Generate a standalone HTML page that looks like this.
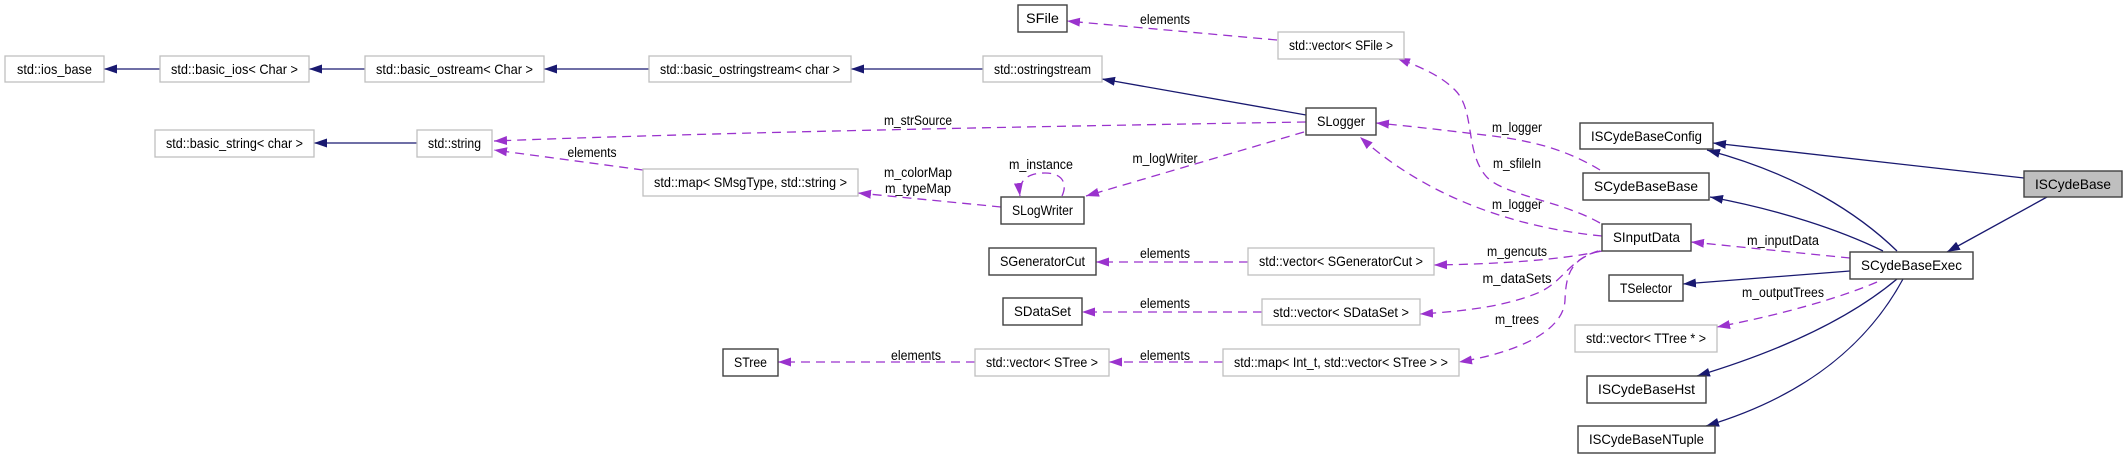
<!DOCTYPE html>
<html><head><meta charset="utf-8"><style>
html,body{margin:0;padding:0;background:#fff;}
svg{display:block;}
text{font-family:"Liberation Sans",Arial,sans-serif;fill:#000;}
.n{font-size:14px;}
.l{font-size:13.5px;}
</style></head><body>
<svg width="2128" height="459" viewBox="0 0 2128 459" xmlns="http://www.w3.org/2000/svg">
<defs>
<marker id="an" markerWidth="14" markerHeight="10" refX="13" refY="5" orient="auto" markerUnits="userSpaceOnUse"><path d="M0,0.5 L13,5 L0,9.5 z" fill="#191970"/></marker>
<marker id="ap" markerWidth="14" markerHeight="10" refX="13" refY="5" orient="auto" markerUnits="userSpaceOnUse"><path d="M0,0.5 L13,5 L0,9.5 z" fill="#9a32cd"/></marker>
</defs>

<!-- navy inheritance edges -->
<g fill="none" stroke="#191970" stroke-width="1.3" marker-end="url(#an)">
<path d="M160,69 L104,69"/>
<path d="M365,69 L309,69"/>
<path d="M649,69 L544,69"/>
<path d="M983,69 L851,69"/>
<path d="M1306,115 L1102,79"/>
<path d="M417,143 L314,143"/>
<path d="M2024,178 L1713,143"/>
<path d="M2047,197 L1947,252"/>
<path d="M1897,251 C1860,215 1800,175 1707,150"/>
<path d="M1883,251 C1840,230 1780,210 1710,197"/>
<path d="M1850,271 L1683,284"/>
<path d="M1897,279 C1860,310 1800,345 1697,376"/>
<path d="M1903,279 C1870,340 1810,395 1706,426"/>
</g>

<!-- purple usage edges -->
<g fill="none" stroke="#9a32cd" stroke-width="1.3" stroke-dasharray="9,6" marker-end="url(#ap)">
<path d="M1277,40 L1067,21"/>
<path d="M1600,223 C1560,200 1500,195 1485,175 C1465,150 1475,110 1455,90 C1440,75 1420,67 1397,58"/>
<path d="M1600,170 C1570,152 1540,142 1493,136 C1450,131 1410,126 1376,123"/>
<path d="M1602,236 C1520,228 1430,200 1360,137"/>
<path d="M1602,251 C1560,260 1500,264 1434,265"/>
<path d="M1600,251 C1570,258 1565,280 1540,292 C1510,305 1470,311 1420,314"/>
<path d="M1598,251 C1570,260 1566,275 1565,300 C1564,330 1520,352 1459,362"/>
<path d="M1850,258 L1691,242"/>
<path d="M1877,282 C1840,298 1780,315 1717,327"/>
<path d="M1306,122 C1000,127 700,133 494,141"/>
<path d="M643,170 L494,150"/>
<path d="M1001,207 L858,193"/>
<path d="M1062,196 C1068,183 1062,173 1045,173 C1028,173 1018,180 1020,196"/>
<path d="M1304,132 L1086,196"/>
<path d="M1248,262 L1096,262"/>
<path d="M1262,312 L1082,312"/>
<path d="M975,362 L778,362"/>
<path d="M1223,362 L1109,362"/>
</g>

<!-- edge labels -->
<g class="l" text-anchor="middle">
<text x="1165" y="24" textLength="50" lengthAdjust="spacingAndGlyphs">elements</text>
<text x="1517" y="168" textLength="48" lengthAdjust="spacingAndGlyphs">m_sfileIn</text>
<text x="1517" y="132" textLength="50" lengthAdjust="spacingAndGlyphs">m_logger</text>
<text x="1517" y="209" textLength="50" lengthAdjust="spacingAndGlyphs">m_logger</text>
<text x="1517" y="256" textLength="60" lengthAdjust="spacingAndGlyphs">m_gencuts</text>
<text x="1517" y="283" textLength="69" lengthAdjust="spacingAndGlyphs">m_dataSets</text>
<text x="1517" y="324" textLength="44" lengthAdjust="spacingAndGlyphs">m_trees</text>
<text x="1783" y="245" textLength="72" lengthAdjust="spacingAndGlyphs">m_inputData</text>
<text x="1783" y="297" textLength="82" lengthAdjust="spacingAndGlyphs">m_outputTrees</text>
<text x="918" y="125" textLength="68" lengthAdjust="spacingAndGlyphs">m_strSource</text>
<text x="592" y="157" textLength="49" lengthAdjust="spacingAndGlyphs">elements</text>
<text x="918" y="177" textLength="68" lengthAdjust="spacingAndGlyphs">m_colorMap</text>
<text x="918" y="193" textLength="66" lengthAdjust="spacingAndGlyphs">m_typeMap</text>
<text x="1041" y="169" textLength="64" lengthAdjust="spacingAndGlyphs">m_instance</text>
<text x="1165" y="163" textLength="65" lengthAdjust="spacingAndGlyphs">m_logWriter</text>
<text x="1165" y="258" textLength="50" lengthAdjust="spacingAndGlyphs">elements</text>
<text x="1165" y="308" textLength="50" lengthAdjust="spacingAndGlyphs">elements</text>
<text x="916" y="360" textLength="50" lengthAdjust="spacingAndGlyphs">elements</text>
<text x="1165" y="360" textLength="50" lengthAdjust="spacingAndGlyphs">elements</text>
</g>

<!-- gray-bordered std nodes -->
<g fill="#fff" stroke="#bfbfbf" stroke-width="1.3">
<rect x="5" y="56" width="99" height="26"/>
<rect x="160" y="56" width="149" height="26"/>
<rect x="365" y="56" width="179" height="26"/>
<rect x="649" y="56" width="202" height="26"/>
<rect x="983" y="56" width="119" height="26"/>
<rect x="1278" y="32" width="126" height="27"/>
<rect x="155" y="130" width="159" height="27"/>
<rect x="417" y="130" width="75" height="27"/>
<rect x="643" y="169" width="215" height="27"/>
<rect x="1248" y="248" width="186" height="27"/>
<rect x="1262" y="299" width="158" height="26"/>
<rect x="975" y="349" width="134" height="27"/>
<rect x="1223" y="349" width="236" height="27"/>
<rect x="1575" y="325" width="142" height="27"/>
</g>

<!-- dark-bordered class nodes -->
<g fill="#fff" stroke="#404040" stroke-width="1.4">
<rect x="1018" y="5" width="49" height="27"/>
<rect x="1306" y="108" width="70" height="27"/>
<rect x="1001" y="197" width="83" height="27"/>
<rect x="1580" y="123" width="133" height="26"/>
<rect x="1583" y="173" width="126" height="27"/>
<rect x="1602" y="224" width="89" height="27"/>
<rect x="1850" y="252" width="123" height="27"/>
<rect x="1609" y="275" width="74" height="26"/>
<rect x="1587" y="376" width="119" height="27"/>
<rect x="1578" y="426" width="137" height="27"/>
<rect x="989" y="248" width="107" height="27"/>
<rect x="1003" y="298" width="79" height="27"/>
<rect x="723" y="349" width="55" height="27"/>
<rect x="2024" y="171" width="98" height="26" fill="#bfbfbf"/>
</g>

<!-- node labels -->
<g class="n" text-anchor="middle">
<text x="54.5" y="74" textLength="75" lengthAdjust="spacingAndGlyphs">std::ios_base</text>
<text x="234.5" y="74" textLength="127" lengthAdjust="spacingAndGlyphs">std::basic_ios&lt; Char &gt;</text>
<text x="454.5" y="74" textLength="157" lengthAdjust="spacingAndGlyphs">std::basic_ostream&lt; Char &gt;</text>
<text x="750" y="74" textLength="180" lengthAdjust="spacingAndGlyphs">std::basic_ostringstream&lt; char &gt;</text>
<text x="1042.5" y="74" textLength="97" lengthAdjust="spacingAndGlyphs">std::ostringstream</text>
<text x="1341" y="50" textLength="104" lengthAdjust="spacingAndGlyphs">std::vector&lt; SFile &gt;</text>
<text x="234.5" y="148" textLength="137" lengthAdjust="spacingAndGlyphs">std::basic_string&lt; char &gt;</text>
<text x="454.5" y="148" textLength="53" lengthAdjust="spacingAndGlyphs">std::string</text>
<text x="750.5" y="187" textLength="193" lengthAdjust="spacingAndGlyphs">std::map&lt; SMsgType, std::string &gt;</text>
<text x="1341" y="266" textLength="164" lengthAdjust="spacingAndGlyphs">std::vector&lt; SGeneratorCut &gt;</text>
<text x="1341" y="317" textLength="136" lengthAdjust="spacingAndGlyphs">std::vector&lt; SDataSet &gt;</text>
<text x="1042" y="367" textLength="112" lengthAdjust="spacingAndGlyphs">std::vector&lt; STree &gt;</text>
<text x="1341" y="367" textLength="214" lengthAdjust="spacingAndGlyphs">std::map&lt; Int_t, std::vector&lt; STree &gt; &gt;</text>
<text x="1646" y="343" textLength="120" lengthAdjust="spacingAndGlyphs">std::vector&lt; TTree * &gt;</text>

<text x="1042.5" y="23" textLength="33" lengthAdjust="spacingAndGlyphs">SFile</text>
<text x="1341" y="126" textLength="48" lengthAdjust="spacingAndGlyphs">SLogger</text>
<text x="1042.5" y="215" textLength="61" lengthAdjust="spacingAndGlyphs">SLogWriter</text>
<text x="1646.5" y="141" textLength="111" lengthAdjust="spacingAndGlyphs">ISCydeBaseConfig</text>
<text x="1646" y="191" textLength="104" lengthAdjust="spacingAndGlyphs">SCydeBaseBase</text>
<text x="1646.5" y="242" textLength="67" lengthAdjust="spacingAndGlyphs">SInputData</text>
<text x="1911.5" y="270" textLength="101" lengthAdjust="spacingAndGlyphs">SCydeBaseExec</text>
<text x="1646" y="293" textLength="52" lengthAdjust="spacingAndGlyphs">TSelector</text>
<text x="1646.5" y="394" textLength="97" lengthAdjust="spacingAndGlyphs">ISCydeBaseHst</text>
<text x="1646.5" y="444" textLength="115" lengthAdjust="spacingAndGlyphs">ISCydeBaseNTuple</text>
<text x="1042.5" y="266" textLength="85" lengthAdjust="spacingAndGlyphs">SGeneratorCut</text>
<text x="1042.5" y="316" textLength="57" lengthAdjust="spacingAndGlyphs">SDataSet</text>
<text x="750.5" y="367" textLength="33" lengthAdjust="spacingAndGlyphs">STree</text>
<text x="2073" y="189" textLength="76" lengthAdjust="spacingAndGlyphs">ISCydeBase</text>
</g>
</svg>
</body></html>
